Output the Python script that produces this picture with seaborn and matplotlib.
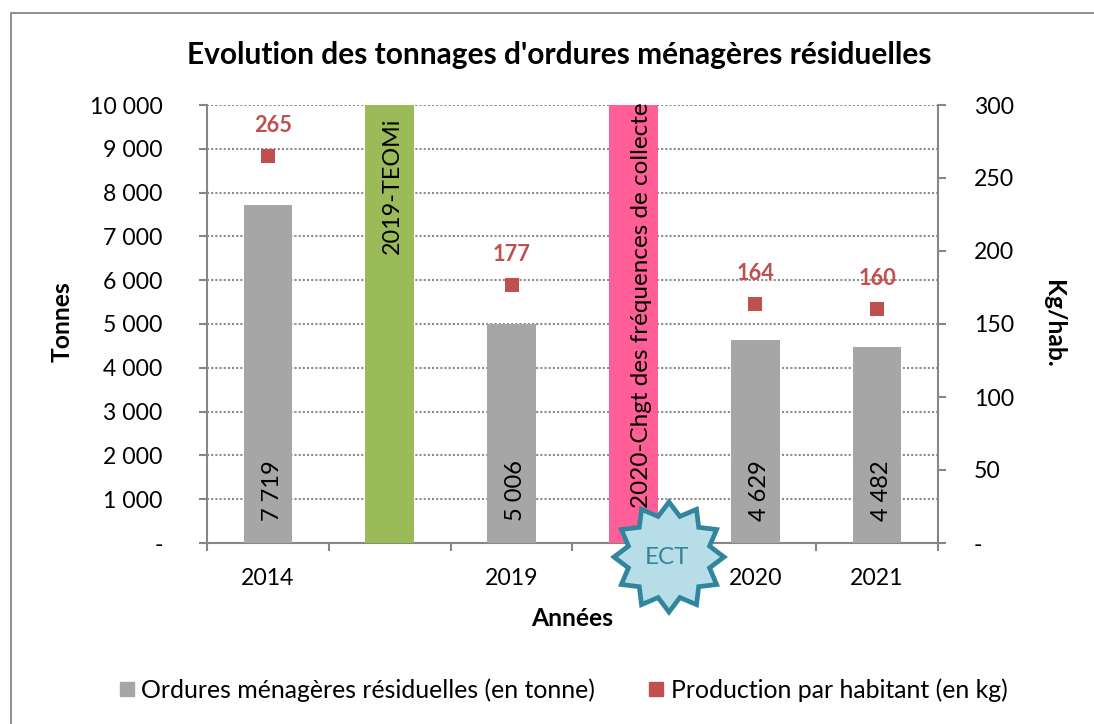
import numpy as np
import pandas as pd
import matplotlib
matplotlib.use("Agg")
import matplotlib.pyplot as plt
from matplotlib.lines import Line2D
from matplotlib.patches import Polygon
from matplotlib.ticker import FuncFormatter, MultipleLocator
import seaborn as sns

# data
slots = ["2014", "TEOMi", "2019", "Chgt", "2020", "2021"]
tick_labels = ["2014", "", "2019", "", "2020", "2021"]
tonnes = [7719, np.nan, 5006, np.nan, 4629, 4482]
par_habitant = [265, np.nan, 177, np.nan, 164, 160]
evenements = [np.nan, 10000, np.nan, 10000, np.nan, np.nan]
event_colors = {"TEOMi": "#9BBB59", "Chgt": "#FF5F96"}
event_texts = {"TEOMi": ("2019-TEOMi", 8150, 16.8, 2), "Chgt": ("2020-Chgt des fréquences de collecte", 5420, 17.5, 6)}

GREY = "#A6A6A6"
RED = "#C0504D"
AXIS = "#868686"
W, H = 1094, 724

sns.set_theme(style="white")
plt.rcParams["font.family"] = ["Lato", "DejaVu Sans"]
FS = 16.6


def thousands(v, pos=None):
    return "-" if v == 0 else f"{int(v):,}".replace(",", " ")


df = pd.DataFrame({"slot": slots, "tonnes": tonnes, "hab": par_habitant, "evt": evenements})

fig = plt.figure(figsize=(W / 100, H / 100), dpi=100, facecolor="white")
# chart frame, cropped on the right and at the bottom
fig.add_artist(Line2D([10.5 / W, 10.5 / W, 1], [0, 1 - 13 / H, 1 - 13 / H], transform=fig.transFigure,
                      color=AXIS, lw=1.3))
ax = fig.add_axes([207 / W, 1 - 543 / H, 731 / W, 438 / H])

sns.barplot(data=df, x="slot", y="tonnes", order=slots, color=GREY, width=0.4, saturation=1, linewidth=0, ax=ax, zorder=3)
sns.barplot(data=df, x="slot", y="evt", order=slots, hue="slot",
            palette={**event_colors, "2014": GREY, "2019": GREY, "2020": GREY, "2021": GREY},
            legend=False, width=0.4, saturation=1, linewidth=0, ax=ax, zorder=3)

ax.set_xlim(-0.5, 5.5)
ax.set_ylim(0, 10000)
ax.yaxis.set_major_locator(MultipleLocator(1000))
ax.yaxis.set_major_formatter(FuncFormatter(thousands))
ax.grid(axis="y", linestyle=(0, (1, 1)), color="#8C8C8C", lw=1.5, zorder=0)
ax.set_axisbelow(True)

ax.set_xticks(range(6))
ax.set_xticklabels(tick_labels, fontsize=FS, color="black")
ax.set_xticks(np.arange(-0.5, 6), minor=True)
ax.tick_params(axis="x", which="major", length=0, pad=18)
ax.tick_params(axis="x", which="minor", length=6, width=1.5, color=AXIS, bottom=True)
ax.tick_params(axis="y", left=True, length=6, width=1.5, color=AXIS, pad=26, labelsize=FS, labelcolor="black")

for name, spine in ax.spines.items():
    spine.set_visible(name in ("left", "bottom", "right"))
    spine.set_color(AXIS)
    spine.set_linewidth(1.5)

ax.set_xlabel("")
ax.set_ylabel("")

# values inside the bars
for i, v in enumerate(tonnes):
    if not np.isnan(v):
        ax.annotate(thousands(v), (i, 1200), xytext=(3, 0), textcoords="offset points", rotation=90,
                    ha="center", va="center", fontsize=17, color="black", zorder=5)
for s, (label, y, size, dx) in event_texts.items():
    ax.annotate(label, (slots.index(s), y), xytext=(dx, 0), textcoords="offset points", rotation=90,
                ha="center", va="center", fontsize=size, color="black", zorder=5)

# second axis
ax2 = ax.twinx()
sns.scatterplot(data=df, x="slot", y="hab", marker="s", s=100, color=RED, linewidth=0, legend=False, ax=ax2, zorder=6)
ax2.set_xlim(-0.5, 5.5)
ax2.set_ylim(0, 300)
ax2.yaxis.set_major_locator(MultipleLocator(50))
ax2.yaxis.set_major_formatter(FuncFormatter(thousands))
ax2.tick_params(axis="y", right=True, length=6, width=1.5, color=AXIS, pad=20, labelsize=FS, labelcolor="black")
ax2.set_ylabel("")
ax2.set_xlabel("")
for spine in ax2.spines.values():
    spine.set_visible(False)
for i, v in enumerate(par_habitant):
    if not np.isnan(v):
        # the first label sits a little right of its marker
        ax2.annotate(str(v), (i, v), xytext=(3.6 if i == 0 else 0, 22), textcoords="offset points",
                     ha="center", va="center", fontsize=15.7, fontweight="bold", color=RED)

# titles
fig.text(559 / W, 1 - 55 / H, "Evolution des tonnages d'ordures ménagères résiduelles", ha="center", va="center",
         fontsize=21.5, fontweight="bold", color="black")
fig.text(572 / W, 1 - 618 / H, "Années", ha="center", va="center", fontsize=17.7, fontweight="bold", color="black")
fig.text(62 / W, 1 - 322 / H, "Tonnes", rotation=90, ha="center", va="center", fontsize=17.7, fontweight="bold", color="black")
fig.text(1054 / W, 1 - 324 / H, "Kg/hab.", rotation=270, ha="center", va="center", fontsize=17.7, fontweight="bold", color="black")

# ECT badge, 12 point star drawn over the axis
n_points = 12
angles = np.pi / 2 - np.arange(2 * n_points) * np.pi / n_points
radii = np.where(np.arange(2 * n_points) % 2 == 0, 55, 42)
star_x = (669 + radii * np.cos(angles)) / W
star_y = 1 - (557 - radii * np.sin(angles)) / H
fig.add_artist(Polygon(np.column_stack([star_x, star_y]), closed=True, transform=fig.transFigure,
                       facecolor="#B7DDE8", edgecolor="#31859C", lw=3.4, joinstyle="miter", zorder=10))
fig.text(667 / W, 1 - 558 / H, "ECT", ha="center", va="center", fontsize=17.5, color="#31859C", zorder=11)

# legend
handles = [
    Line2D([], [], linestyle="none", marker="s", markersize=10, color=GREY, label="Ordures ménagères résiduelles (en tonne)"),
    Line2D([], [], linestyle="none", marker="s", markersize=10, color=RED, label="Production par habitant (en kg)"),
]
fig.legend(handles=handles, loc="center", bbox_to_anchor=(561 / W, 1 - 690 / H), ncol=2, frameon=False,
           fontsize=17.9, handlelength=1.0, handletextpad=0.08, columnspacing=1.96, labelcolor="black")

fig.savefig("out.png", dpi=100, facecolor="white")
